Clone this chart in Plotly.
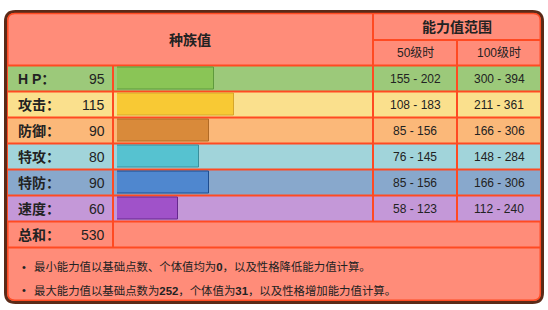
import plotly.graph_objects as go

# ---- data ----
stat_labels = ["H P：", "攻击：", "防御：", "特攻：", "特防：", "速度："]
base_stats = [95, 115, 90, 80, 90, 60]
lv50_ranges = ["155 - 202", "108 - 183", "85 - 156", "76 - 145", "85 - 156", "58 - 123"]
lv100_ranges = ["300 - 394", "211 - 361", "166 - 306", "148 - 284", "166 - 306", "112 - 240"]
total_label = "总和："
total_value = 530
header_base = "种族值"
header_range = "能力值范围"
header_lv50 = "50级时"
header_lv100 = "100级时"
notes = ["最小能力值以基础点数、个体值均为<b>0</b>，以及性格降低能力值计算。",
         "最大能力值以基础点数为<b>252</b>，个体值为<b>31</b>，以及性格增加能力值计算。"]

# ---- styles ----
row_bg = ["#9CC97A", "#FAE08D", "#FBB879", "#A1D4DA", "#88A8CC", "#C498D8"]
bar_fill = ["#8AC556", "#F8C934", "#D98A3A", "#56C2D0", "#4F87CF", "#A052C9"]
bar_edge = ["#5F9A3C", "#D6A62A", "#B06A26", "#3A8E9A", "#1E4C8E", "#66288E"]
salmon = "#FF8C79"
red = "#FF4A22"
dark = "#5B2A18"
txt = "#222222"
FONT = "Liberation Sans, Arial, Noto Sans CJK SC, sans-serif"

W, H = 548, 310
def px(x): return x / W
def py(y): return 1 - y / H

def rrect(x0, y0, x1, y1, r):
    X0, X1, Y0, Y1 = px(x0), px(x1), py(y0), py(y1)
    rx, ry = r / W, r / H
    return (f"M {X0+rx},{Y0} L {X1-rx},{Y0} Q {X1},{Y0} {X1},{Y0-ry} "
            f"L {X1},{Y1+ry} Q {X1},{Y1} {X1-rx},{Y1} L {X0+rx},{Y1} "
            f"Q {X0},{Y1} {X0},{Y1+ry} L {X0},{Y0-ry} Q {X0},{Y0} {X0+rx},{Y0} Z")

row_top, row_h = 65.5, 26.0
n = len(stat_labels)

fig = go.Figure()
fig.add_trace(go.Bar(
    x=base_stats, y=stat_labels, orientation="h", width=0.83,
    marker=dict(color=bar_fill, line=dict(color=bar_edge, width=1)),
    hoverinfo="skip", showlegend=False))

shapes = []
# outer box
shapes.append(dict(type="path", path=rrect(5.5, 11.5, 542.5, 302.5, 10), xref="paper", yref="paper",
                   fillcolor=salmon, line=dict(color=dark, width=3), layer="below"))
shapes.append(dict(type="path", path=rrect(7.8, 13.5, 540.3, 300.3, 7), xref="paper", yref="paper",
                   fillcolor="rgba(0,0,0,0)", line=dict(color=red, width=1.5), layer="below"))
# row backgrounds (in axis coordinates)
for i in range(n):
    shapes.append(dict(type="rect", xref="paper", yref="y", x0=px(8), x1=px(540),
                       y0=i - 0.5, y1=i + 0.5, fillcolor=row_bg[i], line=dict(width=0), layer="below"))
# horizontal grid lines
hl = [(40, 373, 540)]
for k in range(n + 2):
    hl.append((row_top + k * row_h, 8, 540))
for y, a, b in hl:
    shapes.append(dict(type="line", xref="paper", yref="paper", x0=px(a), x1=px(b), y0=py(y), y1=py(y),
                       line=dict(color=red, width=2), layer="below"))
# vertical grid lines
vl = [(113, row_top, row_top + (n + 1) * row_h), (373, 13, row_top + n * row_h), (457, 40, row_top + n * row_h)]
for x, a, b in vl:
    shapes.append(dict(type="line", xref="paper", yref="paper", x0=px(x), x1=px(x), y0=py(a), y1=py(b),
                       line=dict(color=red, width=2), layer="below"))

ann = []
def A(text, x, y, size, xanchor="center", yref="paper", bold=False, color=txt):
    ann.append(dict(text=f"<b>{text}</b>" if bold else text, x=x, y=y, xref="paper", yref=yref,
                    xanchor=xanchor, yanchor="middle", showarrow=False,
                    font=dict(family=FONT, size=size, color=color)))

A(header_base, px(190), py(40), 14, bold=True)
A(header_range, px(457), py(27), 14, bold=True)
A(header_lv50, px(415), py(53), 12)
A(header_lv100, px(499), py(53), 12)
for i in range(n):
    A(stat_labels[i], px(16), stat_labels[i], 14, xanchor="left", yref="y", bold=True)
    A(str(base_stats[i]), px(107), stat_labels[i], 14, xanchor="right", yref="y")
    A(lv50_ranges[i], px(415), stat_labels[i], 12, yref="y")
    A(lv100_ranges[i], px(499), stat_labels[i], 12, yref="y")
ty = row_top + n * row_h + row_h / 2
A(total_label, px(16), py(ty), 14, xanchor="left", bold=True)
A(str(total_value), px(107), py(ty), 14, xanchor="right")
for j, t in enumerate(notes):
    yy = 266.5 + j * 23.5
    A("•", px(20), py(yy), 11, xanchor="left")
    A(t, px(32), py(yy), 11.4, xanchor="left")

fig.update_layout(
    width=W, height=H, autosize=False,
    margin=dict(l=0, r=0, t=0, b=0, pad=0),
    paper_bgcolor="white", plot_bgcolor="rgba(0,0,0,0)",
    shapes=shapes, annotations=ann, bargap=0,
    xaxis=dict(domain=[px(117), px(374)], range=[0, 252], visible=False, fixedrange=True),
    yaxis=dict(domain=[py(row_top + n * row_h), py(row_top)], type="category",
               categoryorder="array", categoryarray=stat_labels,
               range=[n - 0.5, -0.5], visible=False, fixedrange=True),
)
fig.write_html("out.html")
